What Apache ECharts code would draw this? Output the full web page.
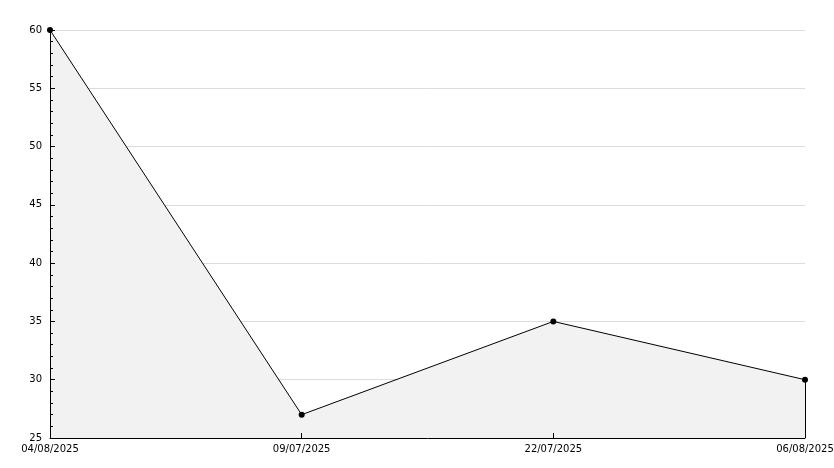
<!DOCTYPE html>
<html>
<head>
<meta charset="utf-8">
<script src="https://cdn.jsdelivr.net/npm/echarts@6/dist/echarts.min.js"></script>
<style>
html, body { margin: 0; padding: 0; background: #fff; }
#chart { width: 834px; height: 468px; }
</style>
</head>
<body>
<div id="chart"></div>
<script>
const dates = ['04/08/2025', '09/07/2025', '22/07/2025', '06/08/2025']
const values = [60, 27, 35, 30]
const yMin = 25
const yMax = 60

const chart = echarts.init(document.getElementById('chart'))
const labelFont = { color: '#000', fontFamily: 'DejaVu Sans', fontSize: 10 }

chart.setOption({
	animation: false,
	grid: { left: 50, right: 29, top: 30, bottom: 30, outerBoundsMode: 'none', containLabel: false },
	xAxis: {
		type: 'category',
		data: dates,
		boundaryGap: false,
		z: 5,
		axisLine: { lineStyle: { color: '#000', width: 1 } },
		axisTick: { inside: true, length: 5, lineStyle: { color: '#000' } },
		axisLabel: Object.assign({ margin: 6, interval: 0 }, labelFont),
		splitLine: { show: false }
	},
	yAxis: [
		{
			// gridlines only, behind the area
			type: 'value',
			min: yMin,
			max: yMax,
			interval: 5,
			z: 0,
			axisLine: { show: false },
			axisTick: { show: false },
			axisLabel: { show: false },
			splitLine: { show: true, lineStyle: { color: '#dcdcdc', width: 1 } }
		},
		{
			// axis line, ticks and labels, on top
			type: 'value',
			position: 'left',
			min: yMin,
			max: yMax,
			interval: 5,
			z: 5,
			axisLine: { show: true, lineStyle: { color: '#000', width: 1 } },
			axisTick: { show: true, inside: true, length: 5, lineStyle: { color: '#000' } },
			minorTick: { show: true, splitNumber: 5, length: 3, lineStyle: { color: '#000' } },
			axisLabel: Object.assign({ margin: 8 }, labelFont),
			splitLine: { show: false }
		}
	],
	series: [
		{
			type: 'line',
			data: values,
			yAxisIndex: 0,
			symbol: 'circle',
			symbolSize: 6,
			z: 2,
			itemStyle: { color: '#000' },
			lineStyle: { color: '#000', width: 1 },
			areaStyle: { color: '#f2f2f2', opacity: 1, origin: 'start' },
			markLine: {
				silent: true,
				symbol: 'none',
				label: { show: false },
				lineStyle: { color: '#000', width: 1, type: 'solid' },
				data: [[
					{ coord: [dates[dates.length - 1], yMin] },
					{ coord: [dates[dates.length - 1], values[values.length - 1]] }
				]]
			}
		}
	]
})
</script>
</body>
</html>
